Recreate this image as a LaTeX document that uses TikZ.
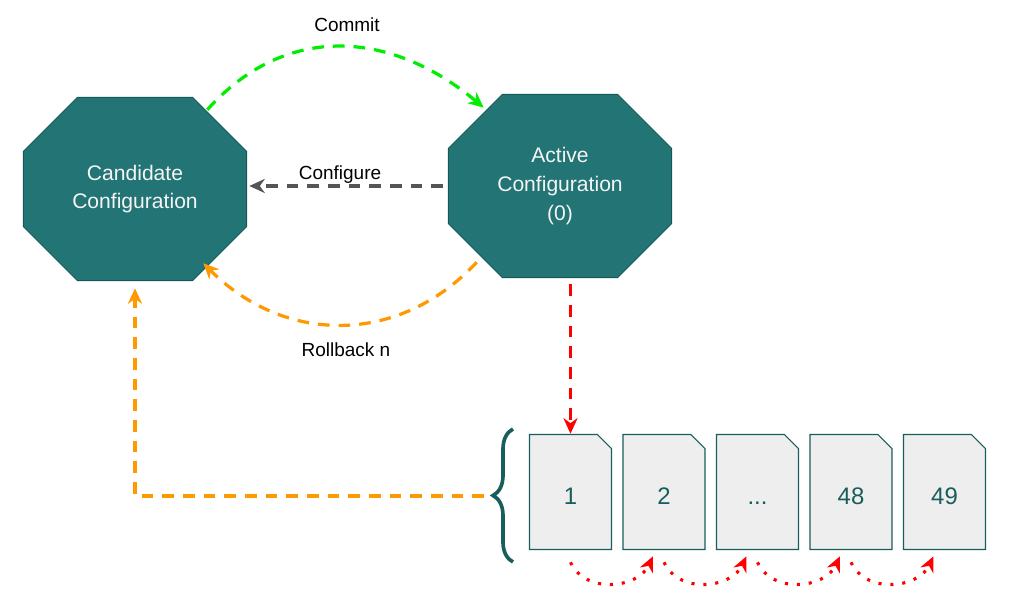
\documentclass[tikz,border=0pt]{standalone}
\usepackage{fontspec}
\setmainfont{Liberation Sans}
\usetikzlibrary{arrows.meta,decorations.pathreplacing}
\definecolor{octfill}{RGB}{34,116,117}
\definecolor{octline}{RGB}{22,88,88}
\definecolor{octtext}{RGB}{245,245,245}
\definecolor{docfill}{RGB}{238,238,238}
\definecolor{docline}{RGB}{24,94,92}
\definecolor{arrgreen}{RGB}{0,238,0}
\definecolor{arrorange}{RGB}{255,153,0}
\definecolor{arrgray}{RGB}{85,85,85}
\definecolor{arrred}{RGB}{255,0,0}
\tikzset{
  oct/.style ={rectangle, minimum width=5.6cm, minimum height=4.6cm, inner sep=0pt,
               text=octtext, align=center, font=\fontsize{15}{20.5}\selectfont,
               path picture={
                 \coordinate (ppne) at ([shift={(-0.3pt,-0.3pt)}]path picture bounding box.north east);
                 \coordinate (ppsw) at ([shift={(0.3pt,0.3pt)}]path picture bounding box.south west);
                 \filldraw[fill=octfill, draw=octline, line width=0.6pt]
                   ([xshift=1.35cm]ppsw |- ppne) -- ([xshift=-1.35cm]ppne) -- ([yshift=-1.35cm]ppne)
                   -- ([yshift=1.35cm]ppne |- ppsw) -- ([xshift=-1.35cm]ppne |- ppsw) -- ([xshift=1.35cm]ppsw)
                   -- ([yshift=1.35cm]ppsw) -- ([yshift=-1.35cm]ppsw |- ppne) -- cycle;
               }},
  doc/.style ={rectangle, minimum width=2.075cm, minimum height=2.9cm, inner sep=0pt,
               text=docline, font=\fontsize{17}{20}\selectfont, text height=17.8pt, text depth=0pt,
               path picture={
                 \coordinate (ppne) at ([shift={(-0.4pt,-0.4pt)}]path picture bounding box.north east);
                 \coordinate (ppsw) at ([shift={(0.4pt,0.4pt)}]path picture bounding box.south west);
                 \filldraw[fill=docfill, draw=docline, line width=0.8pt]
                   (ppsw) -- (ppsw |- ppne) -- ([xshift=-0.35cm]ppne) -- ([yshift=-0.35cm]ppne)
                   -- (ppne |- ppsw) -- cycle;
               }},
  lab/.style ={font=\fontsize{13.5}{16}\selectfont, inner sep=0pt, anchor=base},
  dsh/.style ={line width=2.3pt, dash pattern=on 8.3pt off 6.4pt, -{Stealth[length=11pt,width=10pt,inset=3.5pt]}},
  dts/.style ={color=arrred, line width=2.2pt, dash pattern=on 2.2pt off 6.3pt, -{Stealth[length=11pt,width=10pt,inset=3.5pt]}},
}
\begin{document}
\begin{tikzpicture}[x=0.025cm,y=0.025cm]
  \useasboundingbox (0,0) rectangle (1020,596);
  \node[oct] (cand) at (135,407) {Candidate\\Configuration};
  \node[oct] (act) at (560,410) {Active\\Configuration\\(0)};
  \node[doc] (d1) at (570.5,104) {1};
  \node[doc] (d2) at (664,104) {2};
  \node[doc] (d3) at (757.5,104) {...};
  \node[doc] (d4) at (851,104) {48};
  \node[doc] (d5) at (944.5,104) {49};
  \draw[docline, line width=2.6pt, decorate, decoration={brace, amplitude=0.5cm}] (513,34) -- (513,167);
  \coordinate (brtip) at (484,100);
  \node[lab] (lcommit) at (347,564) {Commit};
  \node[lab] (lconf) at (340,416) {Configure};
  \node[lab] (lroll) at (346,239) {Rollback n};
  \draw[dsh, color=arrgreen] ([shift={(-40,-13)}]cand.north east) to[out=48,in=140,looseness=1.1] ([shift={(36,-14)}]act.north west);
  \draw[dsh, color=arrgray, shorten <=0.12cm, shorten >=0.05cm] (act.west) -- (act.west -| cand.east);
  \draw[dsh, color=arrorange] ([shift={(29,16)}]act.south west) to[out=227,in=-45,looseness=1.07] ([shift={(-44,18)}]cand.south east);
  \draw[dsh, color=arrorange, shorten >=0.175cm] (brtip) -| (cand.south);
  \draw[dsh, color=arrred, shorten <=0.15cm] (d1.north |- act.south) -- (d1.north);
  \draw[dts] ([yshift=-0.3cm]d1.south) to[out=-65,in=-115,looseness=1.1] ([xshift=-0.275cm,yshift=-0.15cm]d2.south);
  \draw[dts] ([yshift=-0.3cm]d2.south) to[out=-65,in=-115,looseness=1.1] ([xshift=-0.275cm,yshift=-0.15cm]d3.south);
  \draw[dts] ([yshift=-0.3cm]d3.south) to[out=-65,in=-115,looseness=1.1] ([xshift=-0.275cm,yshift=-0.15cm]d4.south);
  \draw[dts] ([yshift=-0.3cm]d4.south) to[out=-65,in=-115,looseness=1.1] ([xshift=-0.275cm,yshift=-0.15cm]d5.south);
\end{tikzpicture}
\end{document}
